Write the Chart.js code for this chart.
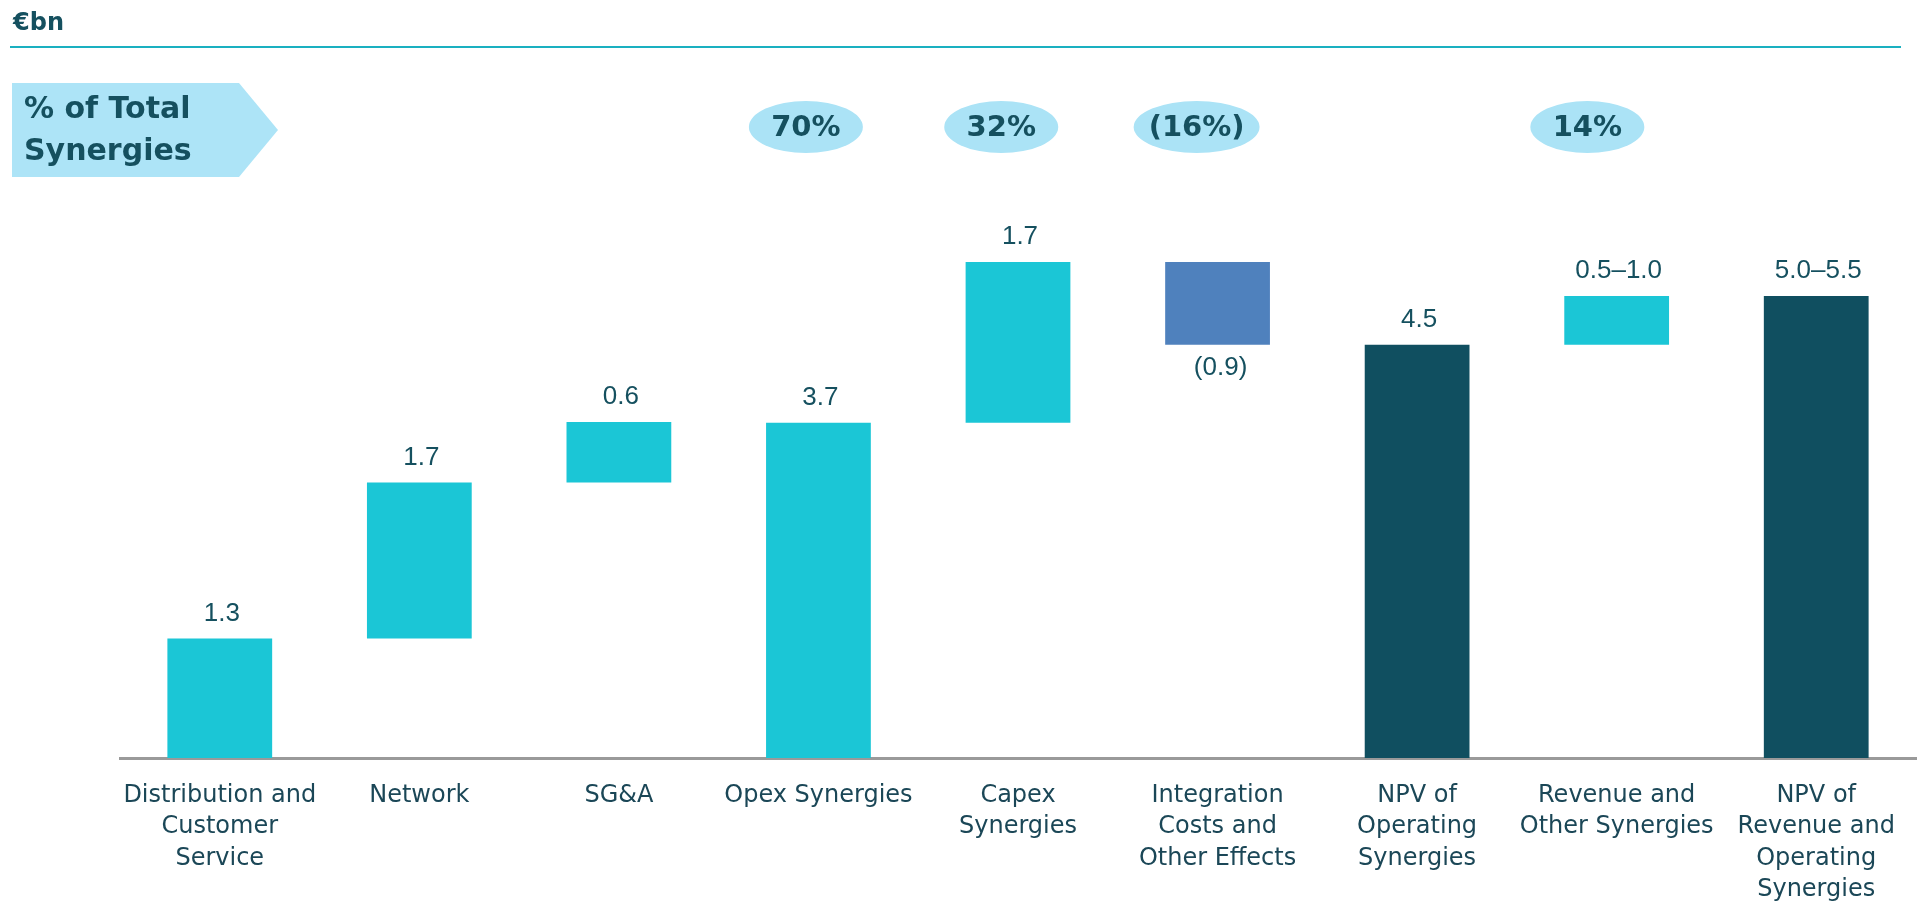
<!DOCTYPE html>
<html>
<head>
<meta charset="utf-8">
<title>Synergies</title>
<script src="https://cdn.jsdelivr.net/npm/chart.js@4.4.1/dist/chart.umd.min.js"></script>
<style>
  html, body { margin: 0; padding: 0; background: #fff; overflow: hidden; }
  canvas { display: block; }
</style>
</head>
<body>
<canvas id="chart" width="1921" height="901"></canvas>
<script>
// categories (multi-line labels)
const categories = [
  ['Distribution and', 'Customer', 'Service'],
  ['Network'],
  ['SG&A'],
  ['Opex Synergies'],
  ['Capex', 'Synergies'],
  ['Integration', 'Costs and', 'Other Effects'],
  ['NPV of', 'Operating', 'Synergies'],
  ['Revenue and', 'Other Synergies'],
  ['NPV of', 'Revenue and', 'Operating', 'Synergies']
];

// floating bar ends (€bn)
const barLow  = [0,   1.3, 3.0,  0,    3.65, 4.5, 0,   4.5,  0];
const barHigh = [1.3, 3.0, 3.66, 3.65, 5.4,  5.4, 4.5, 5.03, 5.03];
// up = increase, down = reduction, total = running total
const barKind = ['up', 'up', 'up', 'total-light', 'up', 'down', 'total', 'up', 'total'];
const valueLabels = ['1.3', '1.7', '0.6', '3.7', '1.7', '(0.9)', '4.5', '0.5–1.0', '5.0–5.5'];
// % of total synergies badges
const shareLabels = [null, null, null, '70%', '32%', '(16%)', null, '14%', null];

const colors = {
  'up': '#1BC6D6',
  'total-light': '#1BC6D6',
  'down': '#4F81BD',
  'total': '#104F60'
};
const textDark = '#15505F';

// extra drawing: header, arrow box, badges, value labels
const decorations = {
  id: 'decorations',
  afterDatasetsDraw(chart) {
    const ctx = chart.ctx;
    const xs = chart.scales.x;
    const meta = chart.getDatasetMeta(0);
    ctx.save();

    // header
    ctx.fillStyle = textDark;
    ctx.font = 'bold 24px "DejaVu Sans"';
    ctx.textAlign = 'left';
    ctx.textBaseline = 'alphabetic';
    ctx.fillText('€bn', 13, 30);
    ctx.strokeStyle = '#1AB0C0';
    ctx.lineWidth = 2;
    ctx.beginPath();
    ctx.moveTo(10, 47);
    ctx.lineTo(1901, 47);
    ctx.stroke();

    // arrow box
    ctx.fillStyle = '#ADE4F7';
    ctx.beginPath();
    ctx.moveTo(12, 83);
    ctx.lineTo(239, 83);
    ctx.lineTo(278, 130);
    ctx.lineTo(239, 177);
    ctx.lineTo(12, 177);
    ctx.closePath();
    ctx.fill();
    ctx.fillStyle = textDark;
    ctx.font = 'bold 30px "DejaVu Sans"';
    ctx.fillText('% of Total', 24, 118);
    ctx.fillText('Synergies', 24, 160);

    // badges
    const x0 = xs.getPixelForValue(0);
    ctx.font = 'bold 29px "DejaVu Sans"';
    ctx.textAlign = 'center';
    ctx.textBaseline = 'middle';
    shareLabels.forEach((txt, i) => {
      if (!txt) return;
      const cx = x0 + (xs.getPixelForValue(i) - x0) * 0.979;
      const w = Math.max(114, ctx.measureText(txt).width + 30);
      ctx.fillStyle = '#ABE3F6';
      ctx.beginPath();
      ctx.ellipse(cx, 127, w / 2, 26, 0, 0, Math.PI * 2);
      ctx.fill();
      ctx.fillStyle = textDark;
      ctx.fillText(txt, cx, 128);
    });

    // value labels
    ctx.font = '26px "Liberation Sans", Arial';
    ctx.textAlign = 'center';
    meta.data.forEach((bar, i) => {
      const p = bar.getProps(['x', 'y', 'base'], true);
      const top = Math.min(p.y, p.base);
      const bottom = Math.max(p.y, p.base);
      ctx.fillStyle = textDark;
      if (barKind[i] === 'down') {
        ctx.textBaseline = 'top';
        ctx.fillText(valueLabels[i], p.x + 3, bottom + 10);
      } else {
        ctx.textBaseline = 'alphabetic';
        ctx.fillText(valueLabels[i], p.x + 2, top - 18);
      }
    });
    ctx.restore();
  }
};

new Chart(document.getElementById('chart'), {
  type: 'bar',
  data: {
    labels: categories,
    datasets: [{
      data: barLow.map((lo, i) => [lo, barHigh[i]]),
      backgroundColor: barKind.map(k => colors[k]),
      borderWidth: 0,
      barPercentage: 0.525,
      categoryPercentage: 1
    }]
  },
  options: {
    responsive: false,
    animation: false,
    layout: { padding: { top: 207, left: 120, right: 5, bottom: 0 } },
    plugins: {
      legend: { display: false },
      tooltip: { enabled: false }
    },
    scales: {
      x: {
        grid: { display: false, drawTicks: false },
        border: { display: true, color: '#9A9A9A', width: 3 },
        ticks: {
          autoSkip: false,
          maxRotation: 0,
          minRotation: 0,
          padding: 22,
          color: '#1B4757',
          font: { family: 'DejaVu Sans', size: 24, lineHeight: 1.3125 }
        },
        afterFit(scale) { scale.height = 143; }
      },
      y: {
        display: false,
        min: 0,
        max: 6
      }
    }
  },
  plugins: [decorations]
});
</script>
</body>
</html>
